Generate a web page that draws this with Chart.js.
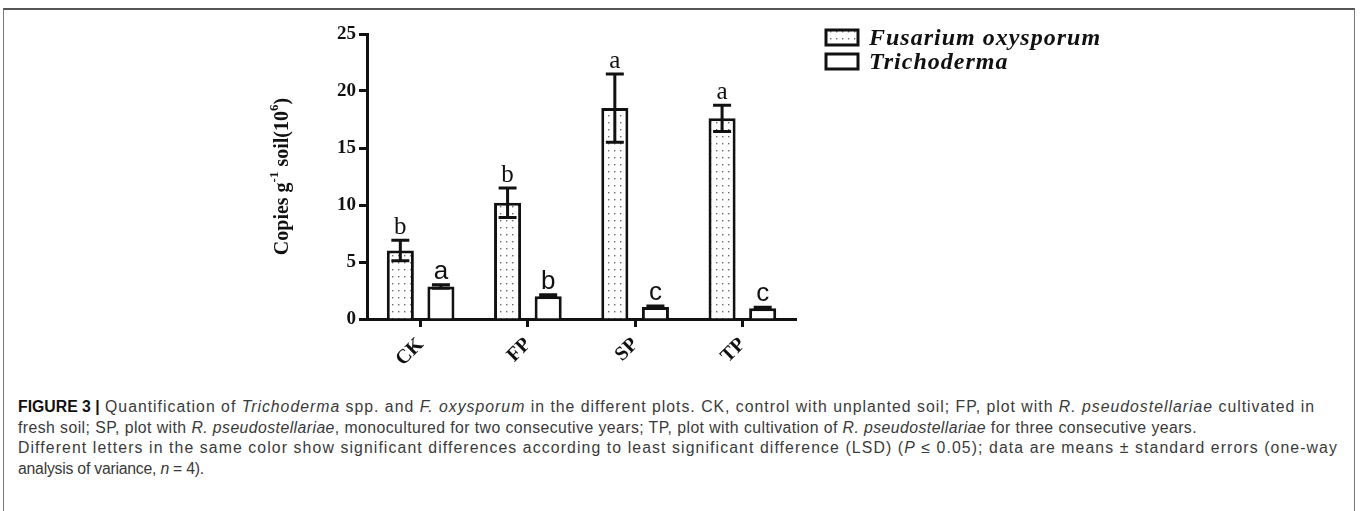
<!DOCTYPE html>
<html>
<head>
<meta charset="utf-8">
<script src="https://cdn.jsdelivr.net/npm/chart.js@4.4.1/dist/chart.umd.min.js"></script>
<style>
  html, body { margin: 0; padding: 0; background: #fff; width: 1360px; height: 511px; overflow: hidden; }
  #frame { position: absolute; left: 3px; top: 8px; width: 1352px; height: 520px;
           border-top: 2px solid #555; border-left: 1px solid #777; border-right: 1px solid #777; box-sizing: border-box; }
  #wrap { position: absolute; left: 0; top: 0; width: 1360px; height: 390px; }
  #caption { position: absolute; left: 18px; top: 397px; width: 1340px;
             font-family: 'Liberation Sans', Arial, sans-serif; font-size: 15.8px; line-height: 20.7px; color: #3a3a3a; }
  #caption div { white-space: nowrap; display: block; }
  #caption span.ln { display: inline-block; }
  #caption b { color: #111; letter-spacing: 0; }
</style>
</head>
<body>
<div id="frame"></div>
<div id="wrap"><canvas id="c"></canvas></div>
<div id="caption">
  <div><span class="ln" data-w="1307"><b>FIGURE 3 |</b> Quantification of <i>Trichoderma</i> spp. and <i>F. oxysporum</i> in the different plots. CK, control with unplanted soil; FP, plot with <i>R. pseudostellariae</i> cultivated in</span></div>
  <div><span class="ln" data-w="1179">fresh soil; SP, plot with <i>R. pseudostellariae</i>, monocultured for two consecutive years; TP, plot with cultivation of <i>R. pseudostellariae</i> for three consecutive years.</span></div>
  <div><span class="ln" data-w="1320">Different letters in the same color show significant differences according to least significant difference (LSD) (<i>P</i> ≤ 0.05); data are means ± standard errors (one-way</span></div>
  <div><span class="ln" data-w="186">analysis of variance, <i>n</i> = 4).</span></div>
</div>
<script>
// ---- data ----
const categories = ['CK', 'FP', 'SP', 'TP'];
const seriesNames = ['Fusarium oxysporum', 'Trichoderma'];
const fusarium = [6.0, 10.2, 18.5, 17.6];
const fusariumErr = [0.9, 1.3, 3.0, 1.15];
const trichoderma = [2.85, 2.0, 1.05, 0.95];
const trichodermaErr = [0.15, 0.12, 0.08, 0.08];
const fusariumLetters = ['b', 'b', 'a', 'a'];
const trichodermaLetters = ['a', 'b', 'c', 'c'];
const yMin = 0, yMax = 25, yStep = 5;
const yTitleParts = [['Copies g', false], ['-1', true], [' soil(10', false], ['6', true], [')', false]];

// ---- caption fitting (spacing only) ----
document.querySelectorAll('#caption span.ln').forEach(sp => {
  const target = +sp.dataset.w;
  const natural = sp.getBoundingClientRect().width;
  const n = sp.textContent.length;
  const ls = Math.max(-0.5, Math.min(1.5, (target - natural) / n));
  sp.style.letterSpacing = ls.toFixed(3) + 'px';
});

// ---- styles ----
const SERIF = "'Liberation Serif', 'Times New Roman', serif";
const SANS = "'Liberation Sans', Arial, sans-serif";
const INK = '#111';

function makeDots() {
  const t = document.createElement('canvas');
  t.width = 6; t.height = 7;
  const g = t.getContext('2d');
  g.fillStyle = '#fff'; g.fillRect(0, 0, 6, 7);
  g.fillStyle = '#6a6a6a'; g.fillRect(2, 3, 1.4, 1.4);
  return document.getElementById('c').getContext('2d').createPattern(t, 'repeat');
}
const dots = makeDots();

const errs = [fusariumErr, trichodermaErr];
const letters = [fusariumLetters, trichodermaLetters];
const letterFonts = ['25px ' + SERIF, '26px ' + SANS];

const overlay = {
  id: 'overlay',
  afterDatasetsDraw(chart) {
    const ctx = chart.ctx, ys = chart.scales.y;
    ctx.save();
    chart.data.datasets.forEach((ds, i) => {
      const meta = chart.getDatasetMeta(i);
      meta.data.forEach((el, j) => {
        const v = ds.data[j], e = errs[i][j];
        const yt = ys.getPixelForValue(v + e), yb = ys.getPixelForValue(v - e);
        const x = el.x, half = 9;
        ctx.strokeStyle = INK; ctx.lineWidth = 3; ctx.lineCap = 'butt';
        ctx.beginPath();
        ctx.moveTo(x, yb); ctx.lineTo(x, yt);
        ctx.moveTo(x - half, yt); ctx.lineTo(x + half, yt);
        ctx.moveTo(x - half, yb); ctx.lineTo(x + half, yb);
        ctx.stroke();
        ctx.fillStyle = INK; ctx.font = letterFonts[i];
        ctx.textAlign = 'center'; ctx.textBaseline = 'alphabetic';
        ctx.fillText(letters[i][j], x, yt - 6);
      });
    });
    // y-axis title with superscripts
    const cx = ys.left - 24, cy = (ys.top + ys.bottom) / 2;
    const main = 'bold 20px ' + SERIF, sup = 'bold 13px ' + SERIF;
    let total = 0;
    yTitleParts.forEach(([t, s]) => { ctx.font = s ? sup : main; total += ctx.measureText(t).width; });
    ctx.translate(cx, cy); ctx.rotate(-Math.PI / 2);
    ctx.textAlign = 'left'; ctx.textBaseline = 'middle';
    let px = -total / 2;
    yTitleParts.forEach(([t, s]) => {
      ctx.font = s ? sup : main;
      ctx.fillText(t, px, s ? -8 : 0);
      px += ctx.measureText(t).width;
    });
    ctx.restore();
    // legend
    ctx.save();
    chart.data.datasets.forEach((ds, i) => {
      const bx = 826, by = 30 + i * 24, bw = 32, bh = 15;
      ctx.fillStyle = ds.backgroundColor; ctx.fillRect(bx, by, bw, bh);
      ctx.strokeStyle = INK; ctx.lineWidth = 3; ctx.strokeRect(bx, by, bw, bh);
      ctx.fillStyle = INK; ctx.font = 'italic bold 24px ' + SERIF;
      if ('letterSpacing' in ctx) ctx.letterSpacing = '1px';
      ctx.textAlign = 'left'; ctx.textBaseline = 'middle';
      ctx.fillText(ds.label, bx + 43, by + bh / 2 + 1);
    });
    ctx.restore();
  }
};

new Chart(document.getElementById('c'), {
  type: 'bar',
  data: {
    labels: categories,
    datasets: [
      { label: seriesNames[0], data: fusarium, backgroundColor: dots, borderColor: INK, borderWidth: 3, borderSkipped: 'bottom' },
      { label: seriesNames[1], data: trichoderma, backgroundColor: '#fff', borderColor: INK, borderWidth: 3, borderSkipped: 'bottom' }
    ]
  },
  options: {
    responsive: true, maintainAspectRatio: false, animation: false,
    devicePixelRatio: 1,
    categoryPercentage: 0.757, barPercentage: 0.667,
    layout: { padding: { left: 307, right: 564, top: 34, bottom: 21 } },
    plugins: { legend: { display: false }, tooltip: { enabled: false } },
    scales: {
      x: {
        grid: { display: true, offset: false, drawOnChartArea: false, drawTicks: true, tickLength: 8, tickWidth: 3, tickColor: INK },
        border: { display: true, width: 3, color: INK },
        ticks: { color: INK, font: { family: SERIF, size: 20, weight: 'bold' }, minRotation: 45, maxRotation: 45, padding: 6 },
        afterFit(s) { s.height = 50; }
      },
      y: {
        min: yMin, max: yMax,
        grid: { display: true, drawOnChartArea: false, drawTicks: true, tickLength: 8, tickWidth: 3, tickColor: INK },
        border: { display: true, width: 3, color: INK },
        ticks: { stepSize: yStep, color: INK, font: { family: SERIF, size: 19, weight: 'bold' }, padding: 3 },
        afterFit(s) { s.width = 60; }
      }
    }
  },
  plugins: [overlay]
});
</script>
</body>
</html>
